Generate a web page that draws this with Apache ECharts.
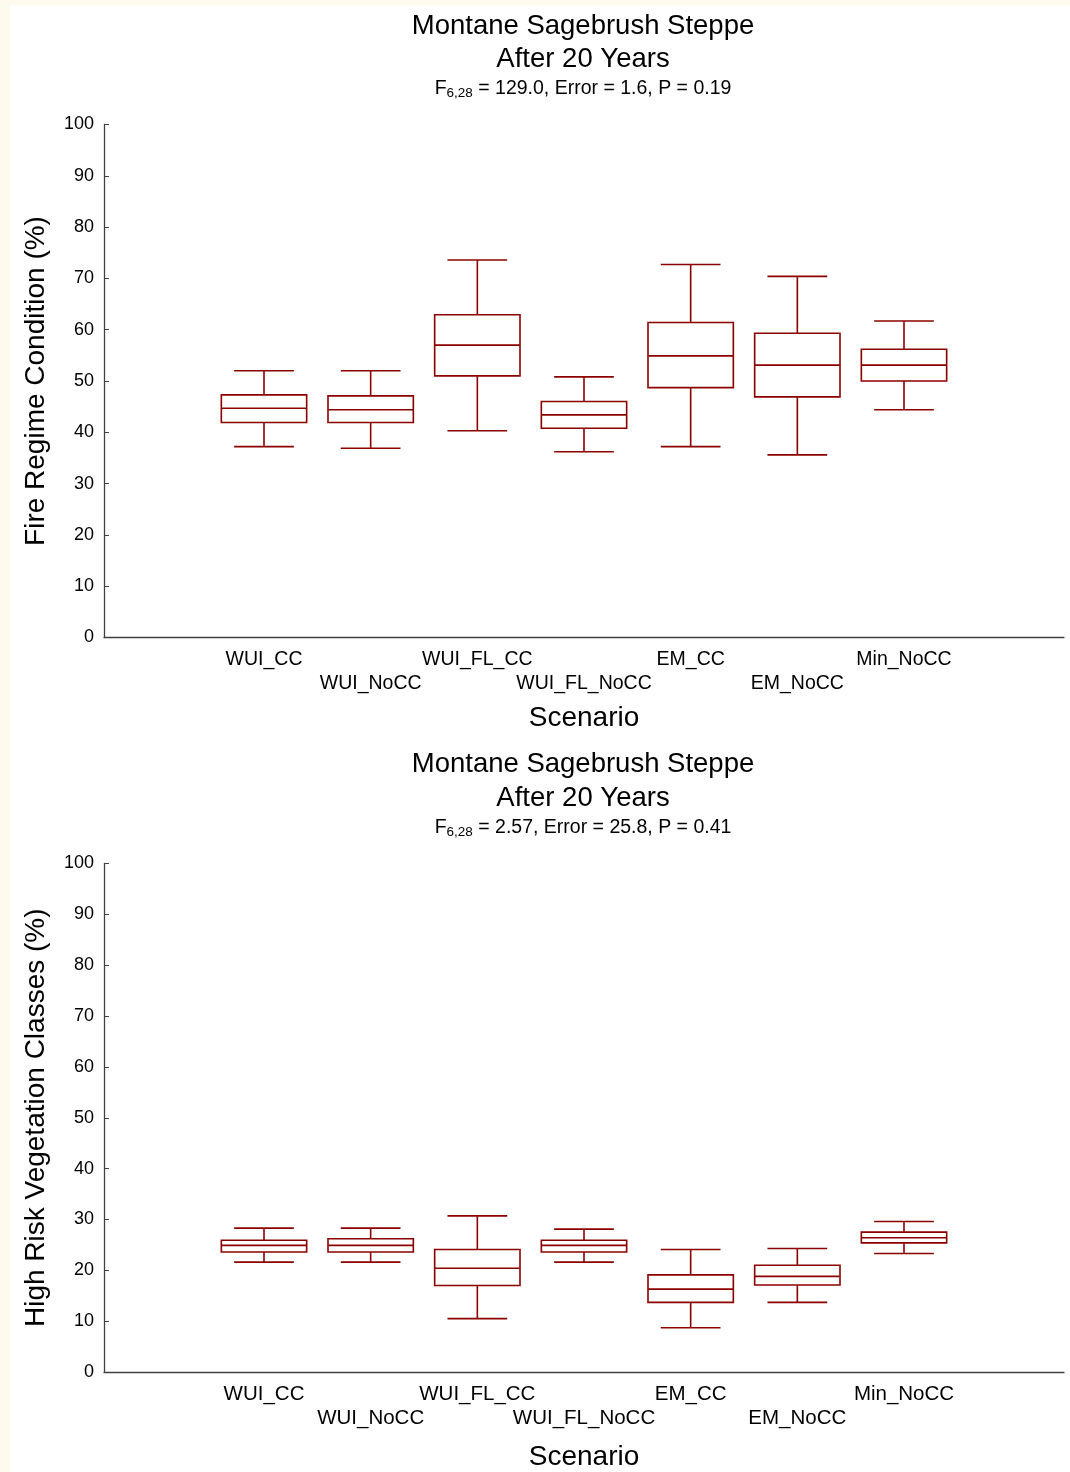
<!DOCTYPE html>
<html>
<head>
<meta charset="utf-8">
<script src="https://cdn.jsdelivr.net/npm/echarts@6/dist/echarts.min.js"></script>
<style>
  html, body { margin: 0; padding: 0; background: #fffaee; }
  #chart { width: 1070px; height: 1472px; }
</style>
</head>
<body>
<div id="chart"></div>
<script>
// Scenario categories (blank slots pad the axis on both ends)
const scenarios = ['', 'WUI_CC', 'WUI_NoCC', 'WUI_FL_CC', 'WUI_FL_NoCC', 'EM_CC', 'EM_NoCC', 'Min_NoCC', ''];

// Fire Regime Condition (%): [min, q1, median, q3, max] per scenario
const fireMin = [37.2, 36.9, 40.3, 36.2, 37.2, 35.6, 44.4];
const fireQ1  = [41.9, 41.9, 51.0, 40.8, 48.7, 46.9, 50.0];
const fireMed = [44.7, 44.4, 57.0, 43.4, 54.9, 53.1, 53.1];
const fireQ3  = [47.3, 47.1, 62.9, 46.0, 61.4, 59.3, 56.2];
const fireMax = [52.0, 52.0, 73.6, 50.8, 72.7, 70.4, 61.7];

// High Risk Vegetation Classes (%): [min, q1, median, q3, max] per scenario
const riskMin = [21.6, 21.6, 10.5, 21.6, 8.7, 13.7, 23.3];
const riskQ1  = [23.6, 23.6, 17.0, 23.6, 13.7, 17.1, 25.4];
const riskMed = [24.9, 24.9, 20.4, 24.9, 16.3, 18.8, 26.4];
const riskQ3  = [25.9, 26.2, 24.1, 25.9, 19.1, 21.0, 27.5];
const riskMax = [28.3, 28.3, 30.7, 28.1, 24.1, 24.3, 29.6];

const yTicks = { min: 0, max: 100, interval: 10 };

const FONT = '"Liberation Sans", Arial, sans-serif';
const BOX_COLOR = '#8b0000';
const AXIS_COLOR = '#404040';

function rows(mins, q1s, meds, q3s, maxs) {
  return mins.map((v, i) => [i + 1, v, q1s[i], meds[i], q3s[i], maxs[i]]);
}

// Box + whisker drawn through the axis scales
function renderBox(params, api) {
  const x = api.value(0);
  const pMin = api.coord([x, api.value(1)]);
  const pQ1 = api.coord([x, api.value(2)]);
  const pMed = api.coord([x, api.value(3)]);
  const pQ3 = api.coord([x, api.value(4)]);
  const pMax = api.coord([x, api.value(5)]);
  const slot = api.size([1, 0])[0];
  const bw = slot * 0.8;
  const cw = slot * 0.56;
  const cx = pMed[0];
  const style = { stroke: BOX_COLOR, lineWidth: 1.6, fill: null };
  const line = (x1, y1, x2, y2) => ({ type: 'line', shape: { x1, y1, x2, y2 }, style });
  return {
    type: 'group',
    children: [
      { type: 'rect', shape: { x: cx - bw / 2, y: pQ3[1], width: bw, height: pQ1[1] - pQ3[1] }, style: { stroke: BOX_COLOR, lineWidth: 1.6, fill: '#fff' } },
      line(cx - bw / 2, pMed[1], cx + bw / 2, pMed[1]),
      line(cx, pQ3[1], cx, pMax[1]),
      line(cx, pQ1[1], cx, pMin[1]),
      line(cx - cw / 2, pMax[1], cx + cw / 2, pMax[1]),
      line(cx - cw / 2, pMin[1], cx + cw / 2, pMin[1])
    ]
  };
}

function xAxisFor(gridIndex, labelSize, nameGap) {
  return {
    type: 'category',
    gridIndex,
    data: scenarios,
    boundaryGap: true,
    name: 'Scenario',
    nameLocation: 'middle',
    nameGap: nameGap,
    nameTextStyle: { fontSize: 28, fontFamily: FONT, color: '#000' },
    axisLine: { show: true, lineStyle: { color: AXIS_COLOR, width: 1.3 } },
    axisTick: { show: false },
    axisLabel: {
      interval: 0,
      fontSize: labelSize,
      fontFamily: FONT,
      color: '#000',
      margin: 10,
      lineHeight: 24,
      formatter: (v, i) => (i % 2 === 0 ? '\n' + v : v)
    },
    splitLine: { show: false }
  };
}

function yAxisFor(gridIndex, title) {
  return {
    type: 'value',
    gridIndex,
    min: yTicks.min,
    max: yTicks.max,
    interval: yTicks.interval,
    name: title,
    nameLocation: 'middle',
    nameRotate: 90,
    nameGap: 54,
    nameTextStyle: { fontSize: 28, fontFamily: FONT, color: '#000' },
    axisLine: { show: true, lineStyle: { color: AXIS_COLOR, width: 1.3 } },
    axisTick: { show: true, inside: true, length: 5, lineStyle: { color: AXIS_COLOR } },
    axisLabel: { fontSize: 18, fontFamily: FONT, color: '#000', margin: 10 },
    splitLine: { show: false }
  };
}

function titleBlock(y, step, stats) {
  const base = { fontFamily: FONT, fill: '#000', align: 'center', verticalAlign: 'middle' };
  return [
    { type: 'text', x: 583, y: y, style: Object.assign({ text: 'Montane Sagebrush Steppe', fontSize: 27.5 }, base) },
    { type: 'text', x: 583, y: y + step, style: Object.assign({ text: 'After 20 Years', fontSize: 27.5 }, base) },
    {
      type: 'text', x: 583, y: y + step + 30,
      style: Object.assign({
        text: '{a|F}{s|6,28}{a| = ' + stats + '}',
        rich: {
          a: { fontSize: 19.5, fontFamily: FONT, fill: '#000', lineHeight: 22 },
          s: { fontSize: 13.5, fontFamily: FONT, fill: '#000', lineHeight: 22, verticalAlign: 'bottom', padding: [12, 0, 0, 0] }
        }
      }, base)
    }
  ];
}

const chart = echarts.init(document.getElementById('chart'), null, { renderer: 'canvas' });
chart.setOption({
  backgroundColor: '#fffaee',
  animation: false,
  graphic: [
    { type: 'rect', z: -10, shape: { x: 10, y: 5, width: 1060, height: 1467 }, style: { fill: '#ffffff' } }
  ].concat(titleBlock(26, 33, '129.0, Error = 1.6, P = 0.19'), titleBlock(764, 34, '2.57, Error = 25.8, P = 0.41')),
  grid: [
    { left: 104, right: 6, top: 124.5, height: 513 },
    { left: 104, right: 6, top: 863.5, height: 509 }
  ],
  xAxis: [xAxisFor(0, 19.5, 67), xAxisFor(1, 20.5, 71)],
  yAxis: [yAxisFor(0, 'Fire Regime Condition (%)'), yAxisFor(1, 'High Risk Vegetation Classes (%)')],
  series: [
    {
      type: 'custom', xAxisIndex: 0, yAxisIndex: 0,
      renderItem: renderBox,
      encode: { x: 0, y: [1, 2, 3, 4, 5] },
      data: rows(fireMin, fireQ1, fireMed, fireQ3, fireMax)
    },
    {
      type: 'custom', xAxisIndex: 1, yAxisIndex: 1,
      renderItem: renderBox,
      encode: { x: 0, y: [1, 2, 3, 4, 5] },
      data: rows(riskMin, riskQ1, riskMed, riskQ3, riskMax)
    }
  ]
});
</script>
</body>
</html>
